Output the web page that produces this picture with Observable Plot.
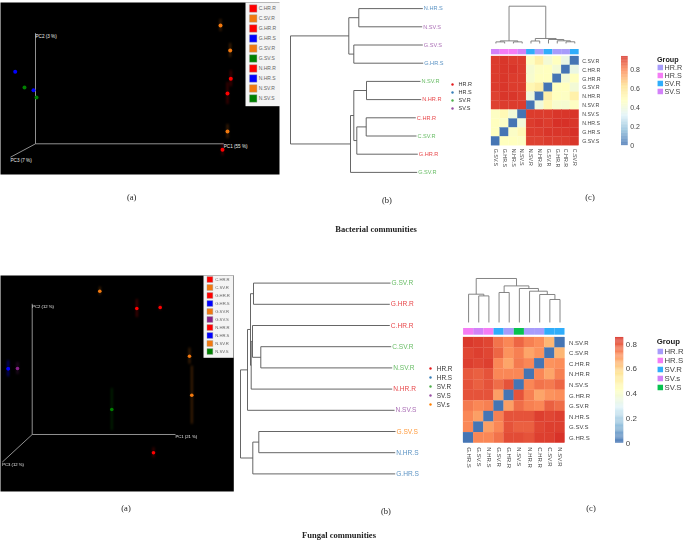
<!DOCTYPE html>
<html>
<head>
<meta charset="utf-8">
<script src="https://cdn.jsdelivr.net/npm/d3@7"></script>
<script src="https://cdn.jsdelivr.net/npm/@observablehq/plot@0.6"></script>
<style>
html,body{margin:0;padding:0;background:#fff;}
#chart{position:relative;width:685px;height:541px;overflow:hidden;font-family:"Liberation Sans",Arial,sans-serif;filter:blur(0.3px);}
.cap{position:absolute;font-family:"Liberation Serif",serif;font-size:8.5px;color:#222;transform:translate(-50%,-50%);white-space:nowrap;}
.cap.b{font-weight:bold;}
</style>
</head>
<body>
<div id="chart"></div>
<script>
// ---------- shared palettes ----------
const pcoaColor = {R:"#ff0000", O:"#f2790f", B:"#0000ff", G:"#008000", P:"#882288"};
const treeColor = {"HR.R":"#e8474a","HR.S":"#5b93c4","SV.R":"#69bd66","SV.S":"#ab6fb6","SV.s":"#ff9a3c"};
const treeLegendColor = {"HR.R":"#e41a1c","HR.S":"#377eb8","SV.R":"#4daf4a","SV.S":"#984ea3","SV.s":"#ff7f00"};
const annColor  = {"HR.R":"#a79cfb","HR.S":"#f47df5","SV.R":"#2fadfb","SV.S":"#d281f8","SV.s":"#d281f8"};
const heatRamp  = ["#4575b4","#91bfdb","#e0f3f8","#ffffbf","#fee090","#fc8d59","#d73027"];

// ---------- bacterial PCoA ----------
const bactPcoaNames  = ["C.HR.R","C.SV.R","G.HR.R","G.HR.S","G.SV.R","G.SV.S","N.HR.R","N.HR.S","N.SV.R","N.SV.S"];
const bactPcoaColors = ["R","O","R","B","O","G","R","B","O","G"];
const bactPC1  = [187, 185, 195.3, -20.3, 194.7, -11, 192, -2, 192, 1];
const bactPC2  = [-6, 118.3, 65, 72, 93.3, 56.3, 50.3, 53.6, 12.3, 46.3];
const bactGlow = [6, 6, 8, 0, 7, 0, 11, 0, 7, 0];

// ---------- fungal PCoA ----------
const fungPcoaNames  = ["C.HR.R","C.SV.R","G.HR.R","G.HR.S","G.SV.R","G.SV.S","N.HR.R","N.HR.S","N.SV.R","N.SV.S"];
const fungPcoaColors = ["R","O","R","B","O","P","R","B","O","G"];
const fungPC1  = [104.6, 67.6, 128, -24, 157.3, -14.7, 121.3, -24, 159.6, 79.6];
const fungPC2  = [126, 143.3, 127, 65.7, 78.3, 66, -18.3, 65.7, 39.3, 25];
const fungGlow = [9, 4, 3, 8, 8, 6, 5, 8, 29, 21];

// ---------- bacterial tree ----------
const bactTips = ["N.HR.S","N.SV.S","G.SV.S","G.HR.S","N.SV.R","N.HR.R","C.HR.R","C.SV.R","G.HR.R","G.SV.R"];
const bactTipDist = [132.3,131.7,132.3,132.7,130,130.7,125.3,126,127.3,126.7];
const bactTipGroup = ["HR.S","SV.S","SV.S","HR.S","SV.R","HR.R","HR.R","SV.R","HR.R","SV.R"];
const bactTree = [0,[58.3,[68.3,"N.HR.S","N.SV.S"],[63.3,"G.SV.S","G.HR.S"]],[60,[63.3,[76,"N.SV.R","N.HR.R"],[66.3,[75.7,"C.HR.R","C.SV.R"],"G.HR.R"]],"G.SV.R"]];
const bactTreeLegend = ["HR.R","HR.S","SV.R","SV.S"];

// ---------- fungal tree ----------
const fungTips = ["G.SV.R","G.HR.R","C.HR.R","C.SV.R","N.SV.R","N.HR.R","N.SV.S","G.SV.S","N.HR.S","G.HR.S"];
const fungTipDist = [150,149.3,149.3,150.7,151.7,151.7,154,155,154.7,154.7];
const fungTipGroup = ["SV.R","HR.R","HR.R","SV.R","SV.R","HR.R","SV.S","SV.s","HR.S","HR.S"];
const fungTree = [0,[7,[10,[13,"G.SV.R","G.HR.R"],[10.7,[12,"C.HR.R",[20.3,"C.SV.R","N.SV.R"]],"N.HR.R"]],"N.SV.S"],[12.3,[18.3,"G.SV.S","N.HR.S"],"G.HR.S"]];
const fungTreeLegend = ["HR.R","HR.S","SV.R","SV.S","SV.s"];

// ---------- bacterial heatmap ----------
const bactRows = ["C.SV.R","C.HR.R","G.HR.R","G.SV.R","N.HR.R","N.SV.R","N.SV.S","N.HR.S","G.HR.S","G.SV.S"];
const bactCols = ["G.SV.S","G.HR.S","N.HR.S","N.SV.S","N.SV.R","N.HR.R","G.SV.R","G.HR.R","C.HR.R","C.SV.R"];
const bactColGroup = ["SV.S","HR.S","HR.S","SV.S","SV.R","HR.R","SV.R","HR.R","HR.R","SV.R"];
const bactMatrix = [
 [.92,.93,.92,.92,.46,.54,.41,.47,.37,0],
 [.92,.93,.93,.92,.42,.46,.47,.41,0,.37],
 [.92,.93,.92,.92,.43,.47,.47,0,.41,.47],
 [.92,.93,.92,.92,.51,.55,0,.47,.47,.41],
 [.91,.93,.93,.92,.39,0,.55,.47,.46,.54],
 [.91,.92,.92,.92,0,.39,.51,.43,.42,.46],
 [.46,.50,.40,0,.92,.92,.92,.93,.93,.93],
 [.47,.45,0,.40,.92,.93,.92,.94,.94,.93],
 [.47,0,.45,.50,.92,.92,.93,.93,.93,.94],
 [0,.47,.47,.46,.91,.91,.92,.92,.92,.93]
];
const bactColTree = [37.3,[2.6,[1.6,0,1],[1.6,2,3]],[5,[2.5,4,5],[4,6,[2.7,7,[1.7,8,9]]]]];
const bactHeatMax = 0.94;
const bactTicks = [0,.2,.4,.6,.8];
const bactGroups = ["HR.R","HR.S","SV.R","SV.S"];

// ---------- fungal heatmap ----------
const fungRows = ["N.SV.R","C.SV.R","C.HR.R","N.HR.R","N.SV.S","G.HR.R","G.SV.R","N.HR.S","G.SV.S","G.HR.S"];
const fungCols = ["G.HR.S","G.SV.S","N.HR.S","G.SV.R","G.HR.R","N.SV.S","N.HR.R","C.HR.R","C.SV.R","N.SV.R"];
const fungColGroup = ["HR.S","SV.s","HR.S","SV.R","HR.R","SV.S","HR.R","HR.R","SV.R","SV.R"];
const fungMatrix = [
 [.84,.83,.82,.75,.72,.77,.73,.71,.64,0],
 [.82,.83,.82,.77,.70,.73,.67,.70,0,.64],
 [.83,.82,.83,.72,.67,.74,.72,0,.70,.71],
 [.79,.78,.80,.72,.72,.72,0,.72,.67,.73],
 [.80,.78,.80,.76,.80,0,.72,.75,.74,.77],
 [.80,.80,.80,.68,0,.80,.73,.67,.70,.71],
 [.74,.72,.73,0,.68,.76,.73,.72,.78,.76],
 [.72,.68,0,.73,.80,.80,.80,.83,.82,.83],
 [.72,0,.68,.72,.80,.78,.78,.82,.83,.83],
 [0,.72,.72,.75,.81,.81,.80,.83,.83,.85]
];
const fungColTree = [44,[28.3,0,[26.6,1,2]],[36.6,[30,3,4],[34,5,[31.3,6,[28,7,[23,8,9]]]]]];
const fungHeatMax = 0.853;
const fungTicks = [0,.2,.4,.6,.8];
const fungGroups = ["HR.R","HR.S","SV.R","SV.s","SV.S"];
const fungLegendColor = {"HR.R":"#a79cfb","HR.S":"#f47df5","SV.R":"#2fadfb","SV.s":"#d281f8","SV.S":"#07c24f"};

// ---------- captions ----------
const captions = [
 ["(a)",131.7,197,0],["(b)",387,200,0],["(c)",590,197,0],["Bacterial communities",376,229,1],
 ["(a)",126,507.5,0],["(b)",386,511,0],["(c)",591,507.5,0],["Fungal communities",339,535,1]
];

// ---------- helpers ----------
const host = document.getElementById("chart");
function put(el,l,t){
  el.style.position="absolute"; el.style.left=l+"px"; el.style.top=t+"px";
  el.style.overflow="visible"; el.style.background="transparent"; el.style.maxWidth="none";
  host.append(el);
}
const font = '"Liberation Sans",Arial,sans-serif';

function pcoa(o){
  const rows = o.names.map((n,i)=>({n,c:pcoaColor[o.colors[i]],x:o.pc1[i],y:o.pc2[i],g:o.glow[i]}));
  const ax = [{x:o.ends[0],y:0,t:o.labels[0]},{x:0,y:o.ends[1],t:o.labels[1]},{x:o.ends[2],y:o.ends[3],t:o.labels[2]}];
  put(Plot.plot({
    width:o.w,height:o.h,margin:0,
    x:{axis:null,domain:[-o.ox,o.w-o.ox]},
    y:{axis:null,domain:[o.oy-o.h,o.oy]},
    color:{type:"identity"},
    style:{fontFamily:font},
    marks:[
      Plot.frame({fill:"black"}),
      Plot.link(ax,{x1:0,y1:0,x2:"x",y2:"y",stroke:"#b5b5b5",strokeWidth:.8}),
      Plot.text(ax,{x:"x",y:"y",text:"t",fill:"#eee",fontSize:o.axisFont,textAnchor:"start",dy:o.axisDy}),
      Plot.ruleX(rows.filter(d=>d.g>0),{x:"x",y1:d=>d.y-d.g,y2:d=>d.y+d.g,stroke:"c",strokeWidth:1.6,strokeOpacity:.32,imageFilter:"blur(0.8px)"}),
      Plot.dot(rows,{x:"x",y:"y",fill:"c",r:o.r,imageFilter:"blur(0.4px)"})
    ]
  }),o.l,o.t);
  // legend
  put(Plot.plot({
    width:o.lw,height:o.lh,margin:0,
    x:{axis:null,domain:[0,o.lw]},
    y:{axis:null,type:"point",padding:0,domain:o.names,range:o.lrange},
    color:{type:"identity"},
    style:{fontFamily:font},
    marks:[
      Plot.frame({fill:"#f4f4f4"}),
      Plot.dot(rows,{x:o.lsx,y:"n",fill:"c",stroke:"#999",strokeWidth:.4,symbol:"square",r:o.lr}),
      Plot.text(rows,{x:o.ltx,y:"n",text:"n",fill:"#666",fontSize:o.lfont,textAnchor:"start"})
    ]
  }),o.lx,o.t);
}

function tree(o){
  const idx = new Map(o.tips.map((t,i)=>[t,i]));
  const segs=[];
  function walk(n){
    if(typeof n==="string"){const i=idx.get(n);return {x:o.dist[i],y:i};}
    const kids=n.slice(1).map(walk);
    const y=(kids[0].y+kids[kids.length-1].y)/2;
    segs.push({x1:n[0],y1:kids[0].y,x2:n[0],y2:kids[kids.length-1].y});
    kids.forEach(k=>segs.push({x1:n[0],y1:k.y,x2:k.x,y2:k.y}));
    return {x:n[0],y};
  }
  walk(o.tree);
  const tips=o.tips.map((t,i)=>({t,x:o.dist[i],y:i,c:treeColor[o.group[i]]}));
  const w=o.w, h=o.step*10;
  put(Plot.plot({
    width:w,height:h,margin:0,
    x:{axis:null,domain:[0,w]},
    y:{axis:null,domain:[9.5,-.5]},
    color:{type:"identity"},
    style:{fontFamily:font},
    marks:[
      Plot.link(segs,{x1:"x1",y1:"y1",x2:"x2",y2:"y2",stroke:"#555",strokeWidth:.9}),
      Plot.text(tips,{x:"x",y:"y",text:"t",fill:"c",fontSize:o.font,textAnchor:"start",dx:1})
    ]
  }),o.l,o.y0-o.step/2);
  const items=o.legend.map(k=>({k,c:treeLegendColor[k]}));
  put(Plot.plot({
    width:40,height:o.lh,margin:0,
    x:{axis:null,domain:[0,40]},
    y:{axis:null,type:"point",padding:0,domain:o.legend,range:[0,o.lh]},
    color:{type:"identity"},
    style:{fontFamily:font},
    marks:[
      Plot.dot(items,{x:0,y:"k",fill:"c",r:1.2}),
      Plot.text(items,{x:o.ltx,y:"k",text:"k",fill:"#333",fontSize:o.lfont,textAnchor:"start"})
    ]
  }),o.lx,o.ly);
}

function heat(o){
  const cells=[];
  o.rows.forEach((r,i)=>o.cols.forEach((c,j)=>cells.push({r,c,v:o.matrix[i][j]})));
  const stops=heatRamp.map((_,i)=>i*o.max/(heatRamp.length-1));
  const color={type:"linear",domain:stops,range:heatRamp,interpolate:"rgb"};
  put(Plot.plot({
    width:o.w,height:o.h,margin:0,
    x:{type:"band",domain:o.cols,padding:0,round:false,tickSize:0,tickRotate:90,tickPadding:o.tp,label:null},
    y:{type:"band",domain:o.rows,padding:0,round:false,axis:"right",tickSize:0,tickPadding:o.tp,label:null},
    color,
    style:{fontFamily:font,fontSize:o.font+"px",color:"#444"},
    marks:[Plot.cell(cells,{x:"c",y:"r",fill:"v",stroke:"v",strokeWidth:.25})]
  }),o.l,o.t);
  // annotation strip
  put(Plot.plot({
    width:o.w,height:o.annH,margin:0,
    x:{axis:null,type:"band",domain:o.cols,padding:0,round:false},
    color:{type:"identity"},
    marks:[Plot.cell(o.cols.map((c,i)=>({c,f:(o.stripColor||annColor)[o.colGroup[i]]})),{x:"c",fill:"f"})]
  }),o.l,o.annT);
  // column dendrogram
  const segs=[];
  function walk(n){
    if(typeof n==="number") return {x:n,y:0};
    const a=walk(n[1]),b=walk(n[2]);
    segs.push({x1:a.x,y1:n[0],x2:b.x,y2:n[0]},{x1:a.x,y1:a.y,x2:a.x,y2:n[0]},{x1:b.x,y1:b.y,x2:b.x,y2:n[0]});
    return {x:(a.x+b.x)/2,y:n[0]};
  }
  walk(o.colTree);
  put(Plot.plot({
    width:o.w,height:o.treeH,margin:0,
    x:{axis:null,domain:[-.5,9.5]},
    y:{axis:null,domain:[0,o.treeH]},
    marks:[Plot.link(segs,{x1:"x1",y1:"y1",x2:"x2",y2:"y2",stroke:"#777",strokeWidth:.9})]
  }),o.l,o.treeBase-o.treeH);
  // colour bar
  const step=o.max/120;
  const ramp=d3.range(120).map(i=>i*step);
  put(Plot.plot({
    width:o.barW,height:o.h,margin:0,
    x:{axis:null,domain:[0,1]},
    y:{domain:[0,o.max],axis:"right",ticks:o.ticks,tickSize:0,tickPadding:2,label:null,tickFormat:d=>d===0?"0":d3.format(".1f")(d)},
    color,
    style:{fontFamily:font,fontSize:o.barFont+"px",color:"#444"},
    marks:[Plot.rect(ramp,{x1:0,x2:1,y1:d=>d,y2:d=>d+step*1.05,fill:d=>d})]
  }),o.barL,o.t);
  // group legend
  put(Plot.plot({
    width:30,height:o.gh,margin:0,
    x:{axis:null,domain:[0,30]},
    y:{axis:null,type:"point",padding:0,domain:o.groups,range:[0,o.gh]},
    color:{type:"identity"},
    style:{fontFamily:font},
    marks:[
      Plot.dot(o.groups,{x:2.8,y:d=>d,symbol:"square",r:3.1,fill:d=>o.gcolor[d]}),
      Plot.text(o.groups,{x:7,y:d=>d,text:d=>d,fontSize:o.gfont,fill:"#444",textAnchor:"start"})
    ]
  }),o.gx,o.gy);
  const g=document.createElement("div");
  g.textContent="Group";
  Object.assign(g.style,{position:"absolute",left:o.gx+"px",top:o.gTitleY+"px",fontSize:o.gfont+"px",fontWeight:"bold",color:"#222",transform:"translateY(-50%)"});
  host.append(g);
}

// ---------- draw ----------
pcoa({names:bactPcoaNames,colors:bactPcoaColors,pc1:bactPC1,pc2:bactPC2,glow:bactGlow,
  l:0,t:2,w:279,h:172,ox:35,oy:141.3,ends:[188.3,110.6,-25,-13.4],
  labels:["PC1 (55 %)","PC2 (3 %)","PC3 (7 %)"],axisFont:4.6,axisDy:3,r:2,
  lx:244.5,lw:34.5,lh:103.7,lrange:[5.3,95.7],lsx:7.7,ltx:13.2,lr:4.2,lfont:5});
pcoa({names:fungPcoaNames,colors:fungPcoaColors,pc1:fungPC1,pc2:fungPC2,glow:fungGlow,
  l:0,t:275,w:233.3,h:216,ox:31.7,oy:159,ends:[143.3,130.7,-30,-27.7],
  labels:["PC1 (21 %)","PC2 (12 %)","PC3 (12 %)"],axisFont:4.2,axisDy:2.5,r:1.8,
  lx:203.3,lw:30,lh:82.3,lrange:[3.7,77.3],lsx:6.4,ltx:11.7,lr:3.3,lfont:4.2});

tree({tips:bactTips,dist:bactTipDist,group:bactTipGroup,tree:bactTree,l:290,y0:7.7,step:18.2,w:165,font:5.6,
  legend:bactTreeLegend,lx:452,ly:84.3,lh:24.7,ltx:6,lfont:5.5});
tree({tips:fungTips,dist:fungTipDist,group:fungTipGroup,tree:fungTree,l:240,y0:282.7,step:21.2,w:185,font:6.6,
  legend:fungTreeLegend,lx:429.7,ly:367.3,lh:37.7,ltx:6.3,lfont:6.4});

heat({rows:bactRows,cols:bactCols,colGroup:bactColGroup,matrix:bactMatrix,max:bactHeatMax,colTree:bactColTree,
  l:491,t:56,w:87.7,h:89.3,tp:3,font:5.3,annT:49,annH:5.3,treeBase:43.3,treeH:38,
  ticks:bactTicks,barL:621,barW:6.7,barFont:7,groups:bactGroups,gcolor:annColor,
  gx:657,gy:66.7,gh:24.6,gfont:7.2,gTitleY:59});
heat({rows:fungRows,cols:fungCols,colGroup:fungColGroup,matrix:fungMatrix,max:fungHeatMax,colTree:fungColTree,stripColor:fungLegendColor,
  l:462.7,t:337.3,w:101.6,h:105.7,tp:4,font:6,annT:328.3,annH:6.7,treeBase:322.3,treeH:45,
  ticks:fungTicks,barL:615,barW:8.3,barFont:8,groups:fungGroups,gcolor:fungLegendColor,
  gx:656.7,gy:350.3,gh:37.7,gfont:7.8,gTitleY:341});

captions.forEach(([t,x,y,b])=>{
  const d=document.createElement("div");
  d.className="cap"+(b?" b":"");
  d.textContent=t; d.style.left=x+"px"; d.style.top=y+"px";
  host.append(d);
});
</script>
</body>
</html>
